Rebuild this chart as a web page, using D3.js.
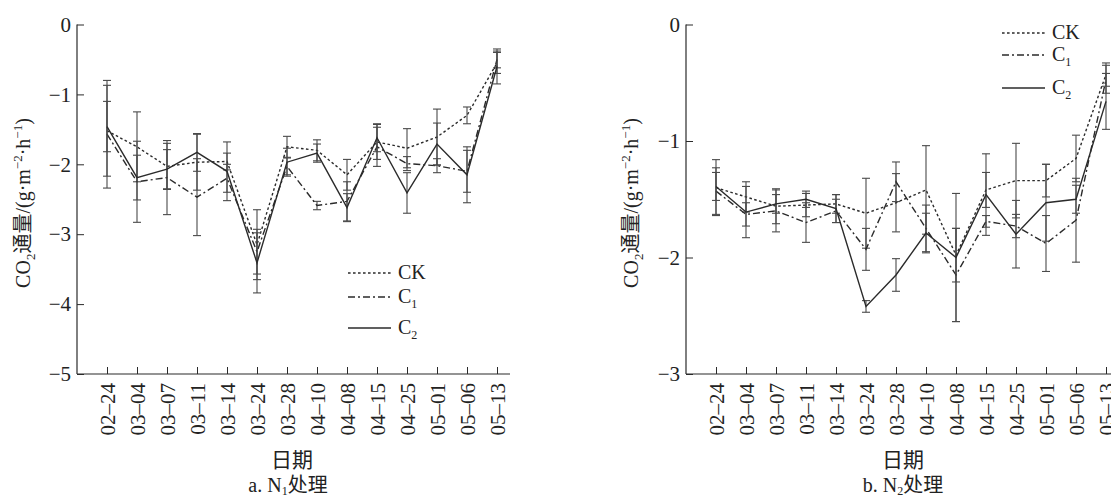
<!DOCTYPE html>
<html><head><meta charset="utf-8">
<script src="https://cdn.jsdelivr.net/npm/d3@7/dist/d3.min.js"></script>
<style>
body{margin:0;background:#fff;}
svg{display:block;}
</style></head><body>
<svg id="chart" width="1111" height="499"></svg>
<script>
const dates = ["02–24","03–04","03–07","03–11","03–14","03–24","03–28","04–10","04–08","04–15","04–25","05–01","05–06","05–13"];
const seriesNames = ["CK","C1","C2"];

const n1CK = [-1.52,-1.75,-2.03,-1.97,-1.96,-3.15,-1.75,-1.80,-2.15,-1.68,-1.77,-1.61,-1.30,-0.55];
const n1C1 = [-1.57,-2.25,-2.19,-2.47,-2.20,-3.25,-2.03,-2.59,-2.53,-1.75,-1.99,-2.02,-2.10,-0.50];
const n1C2 = [-1.46,-2.19,-2.07,-1.83,-2.10,-3.41,-1.97,-1.84,-2.62,-1.62,-2.41,-1.71,-2.15,-0.60];
const n1CKerr = [0.65,0.50,0.33,0.40,0.12,0.50,0.15,0.15,0.22,0.25,0.28,0.40,0.12,0.15];
const n1C1err = [0.77,0.58,0.53,0.55,0.20,0.32,0.12,0.06,0.28,0.28,0.10,0.10,0.30,0.12];
const n1C2err = [0.36,0.32,0.28,0.27,0.42,0.43,0.20,0.13,0.20,0.20,0.29,0.30,0.40,0.25];

const n2CK = [-1.40,-1.48,-1.56,-1.55,-1.54,-1.62,-1.53,-1.42,-1.98,-1.42,-1.34,-1.34,-1.15,-0.43];
const n2C1 = [-1.43,-1.63,-1.60,-1.70,-1.60,-1.93,-1.35,-1.75,-2.15,-1.69,-1.73,-1.88,-1.68,-0.47];
const n2C2 = [-1.39,-1.61,-1.54,-1.50,-1.58,-2.42,-2.15,-1.79,-2.00,-1.46,-1.80,-1.53,-1.50,-0.66];
const n2CKerr = [0.24,0.13,0.15,0.10,0.08,0.30,0.25,0.38,0.23,0.15,0.32,0.14,0.20,0.10];
const n2C1err = [0.20,0.10,0.18,0.17,0.10,0.18,0.17,0.20,0.40,0.05,0.10,0.24,0.36,0.12];
const n2C2err = [0.12,0.22,0.08,0.07,0.12,0.05,0.14,0.17,0.55,0.35,0.29,0.33,0.12,0.24];

const n1YTicks = [0,-1,-2,-3,-4,-5];
const n2YTicks = [0,-1,-2,-3];

const svg = d3.select("#chart");
const ink = "#2b2b2b";
const serif = "'Liberation Serif','Noto Sans CJK SC',serif";
const dashes = {CK:"2.6,2.4", C1:"7,3,2,3", C2:null};
const fs = 21;

function styleText(sel, size){
  return sel.style("font-family",serif).style("font-size",size+"px").attr("fill","#222");
}

function drawPanel(cfg){
  const g = svg.append("g");
  const x = d3.scalePoint().domain(dates).range(cfg.xRange);
  const y = d3.scaleLinear().domain(cfg.yDomain).range([374,24.5]);
  const ya = g.append("g").attr("transform",`translate(${cfg.axisX},0)`)
    .call(d3.axisLeft(y).tickValues(cfg.yTicks).tickSizeInner(-7).tickSizeOuter(0).tickPadding(6)
      .tickFormat(d => d===0 ? "0" : "−"+Math.abs(d)));
  ya.select(".domain").remove();
  ya.selectAll("line").attr("stroke",ink);
  styleText(ya.selectAll("text"), fs);
  const xa = g.append("g").attr("transform",`translate(0,374)`)
    .call(d3.axisBottom(x).tickSizeInner(-7).tickSizeOuter(0));
  xa.select(".domain").remove();
  xa.selectAll("line").attr("stroke",ink);
  styleText(xa.selectAll("text"), fs)
    .attr("transform","rotate(-90)").attr("text-anchor","end").attr("x",-9).attr("y",0).attr("dy","0.35em");
  g.append("line").attr("x1",cfg.axisX).attr("x2",cfg.axisX).attr("y1",y(cfg.yDomain[1])).attr("y2",374).attr("stroke",ink).attr("stroke-width",1.2);
  g.append("line").attr("x1",cfg.axisX).attr("x2",cfg.xEnd).attr("y1",374).attr("y2",374).attr("stroke",ink).attr("stroke-width",1.2);

  const line = d3.line().x((d,i)=>x(dates[i])).y(d=>y(d));
  cfg.series.forEach(s=>{
    const eb = g.append("g");
    s.vals.forEach((v,i)=>{
      const cx = x(dates[i]), e = s.err[i];
      eb.append("line").attr("x1",cx).attr("x2",cx).attr("y1",y(v+e)).attr("y2",y(v-e)).attr("stroke","#4a4a4a").attr("stroke-width",1.1);
      [v+e, v-e].forEach(t=>eb.append("line").attr("x1",cx-4).attr("x2",cx+4).attr("y1",y(t)).attr("y2",y(t)).attr("stroke","#4a4a4a").attr("stroke-width",1.1));
    });
    g.append("path").datum(s.vals).attr("d",line).attr("fill","none").attr("stroke",ink)
      .attr("stroke-width",1.4).attr("stroke-dasharray",dashes[s.name]);
  });
  cfg.series.forEach((s,i)=>{
    const ly = cfg.legendY[i];
    g.append("line").attr("x1",cfg.legendX).attr("x2",cfg.legendX+43).attr("y1",ly).attr("y2",ly)
      .attr("stroke",ink).attr("stroke-width",1.5).attr("stroke-dasharray",dashes[s.name]);
    const t = styleText(g.append("text").attr("x",cfg.legendX+50).attr("y",ly+6), 20);
    if(s.name==="CK"){ t.text("CK"); }
    else { t.append("tspan").text("C"); t.append("tspan").style("font-size","12px").attr("dy",5).text(s.name.slice(1)); }
  });
  const yt = styleText(g.append("text").attr("transform",`translate(${cfg.titleX},203) rotate(-90)`)
    .attr("text-anchor","middle"), 20);
  yt.append("tspan").text("CO");
  yt.append("tspan").style("font-size","13px").attr("dy",5).text("2");
  yt.append("tspan").attr("dy",-5).text("通量/(g·m");
  yt.append("tspan").style("font-size","13px").attr("dy",-8).text("−2");
  yt.append("tspan").attr("dy",8).text("·h");
  yt.append("tspan").style("font-size","13px").attr("dy",-8).text("−1");
  yt.append("tspan").attr("dy",8).text(")");
  styleText(g.append("text").attr("x",cfg.xTitleX).attr("y",467).attr("text-anchor","middle"), 21).text("日期");
  const st = styleText(g.append("text").attr("x",cfg.subX).attr("y",492).attr("text-anchor","middle"), 20);
  st.append("tspan").text(cfg.subPrefix+" N");
  st.append("tspan").style("font-size","12px").attr("dy",3).text(cfg.subIdx);
  st.append("tspan").attr("dy",-3).text("处理");
}

drawPanel({
  xRange:[107,497], yDomain:[-5,0], yTicks:n1YTicks, axisX:77, xEnd:510,
  series:[{name:"CK",vals:n1CK,err:n1CKerr},{name:"C1",vals:n1C1,err:n1C1err},{name:"C2",vals:n1C2,err:n1C2err}],
  legendX:348, legendY:[273,297,328], titleX:30, xTitleX:292, subX:288, subPrefix:"a.", subIdx:"1"
});
drawPanel({
  xRange:[716,1106], yDomain:[-3,0], yTicks:n2YTicks, axisX:686, xEnd:1111,
  series:[{name:"CK",vals:n2CK,err:n2CKerr},{name:"C1",vals:n2C1,err:n2C1err},{name:"C2",vals:n2C2,err:n2C2err}],
  legendX:1002, legendY:[33,55,88], titleX:638, xTitleX:903, subX:903, subPrefix:"b.", subIdx:"2"
});
</script></body></html>
